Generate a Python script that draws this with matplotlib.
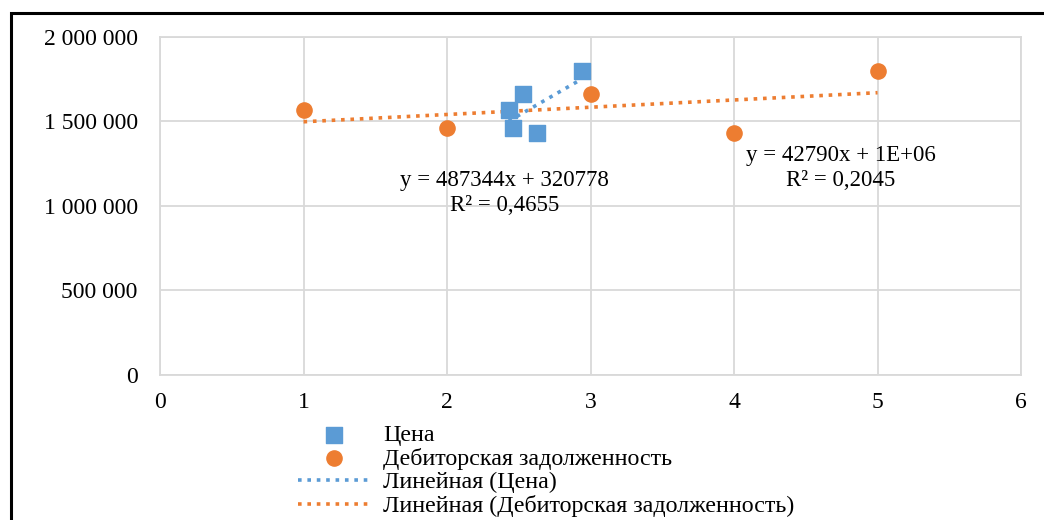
import numpy as np
import matplotlib.pyplot as plt
from matplotlib.patches import Rectangle
from matplotlib.ticker import FuncFormatter

# данные
price_x = [2.43, 2.46, 2.53, 2.63, 2.94]
price_y = [1570000, 1460000, 1660000, 1430000, 1800000]
debt_x = [1, 2, 3, 4, 5]
debt_y = [1570000, 1460000, 1660000, 1430000, 1800000]

price_label = "Цена"
debt_label = "Дебиторская задолженность"
price_eq = "y = 487344x + 320778\nR² = 0,4655"
debt_eq = "y = 42790x + 1E+06\nR² = 0,2045"

blue = "#5b9bd5"
orange = "#ed7d31"

plt.rcParams['font.family'] = ['Liberation Serif', 'DejaVu Serif']
plt.rcParams['font.size'] = 17

fig = plt.figure(figsize=(10.44, 5.2), dpi=100)
ax = fig.add_axes([0.1533, 0.279, 0.978 - 0.1533, 0.929 - 0.279])

# внешняя рамка (видны только верх и левый край)
fig.patches.append(Rectangle((11 / 1044, -0.5), 1.5, 0.5 + 1 - 13 / 520,
                             transform=fig.transFigure, fill=False,
                             edgecolor='black', linewidth=2.2))

sc_price = ax.scatter(price_x, price_y, marker='s', s=120, color=blue, zorder=3)
sc_debt = ax.scatter(debt_x, debt_y, marker='o', s=120, color=orange, zorder=3)

# линейные тренды
trend_lines = []
for xs, ys, c in [(price_x, price_y, blue), (debt_x, debt_y, orange)]:
    k, b = np.polyfit(xs, ys, 1)
    xx = np.array([min(xs), max(xs)])
    ln, = ax.plot(xx, k * xx + b, linestyle=(0, (1, 1.6)), linewidth=2.6, color=c, zorder=2)
    trend_lines.append(ln)

ax.text(2.40, 1077000, price_eq, ha='center', va='center', fontsize=16.5, linespacing=1.25)
ax.text(4.745, 1225000, debt_eq, ha='center', va='center', fontsize=16.5, linespacing=1.25)

ax.set_xlim(0, 6)
ax.set_ylim(0, 2000000)
ax.set_xticks(range(0, 7))
ax.set_yticks(range(0, 2000001, 500000))
ax.yaxis.set_major_formatter(FuncFormatter(lambda v, p: f"{int(v):,}".replace(",", " ")))
ax.grid(True, color='#d9d9d9', linewidth=1.3)
ax.set_axisbelow(True)
for s in ax.spines.values():
    s.set_color('#d9d9d9')
    s.set_linewidth(1.3)
ax.tick_params(length=0, labelsize=17)
ax.tick_params(axis='x', pad=12)
ax.tick_params(axis='y', pad=16)

fig.legend([sc_price, sc_debt] + trend_lines,
           [price_label, debt_label,
            "Линейная (" + price_label + ")", "Линейная (" + debt_label + ")"],
           loc='upper left', bbox_to_anchor=(298 / 1044, 1 - 424 / 520),
           frameon=False, fontsize=17.3, handlelength=3.0, handletextpad=0.55,
           labelspacing=0.08, borderpad=0, borderaxespad=0)

fig.savefig("out.png", dpi=100)
